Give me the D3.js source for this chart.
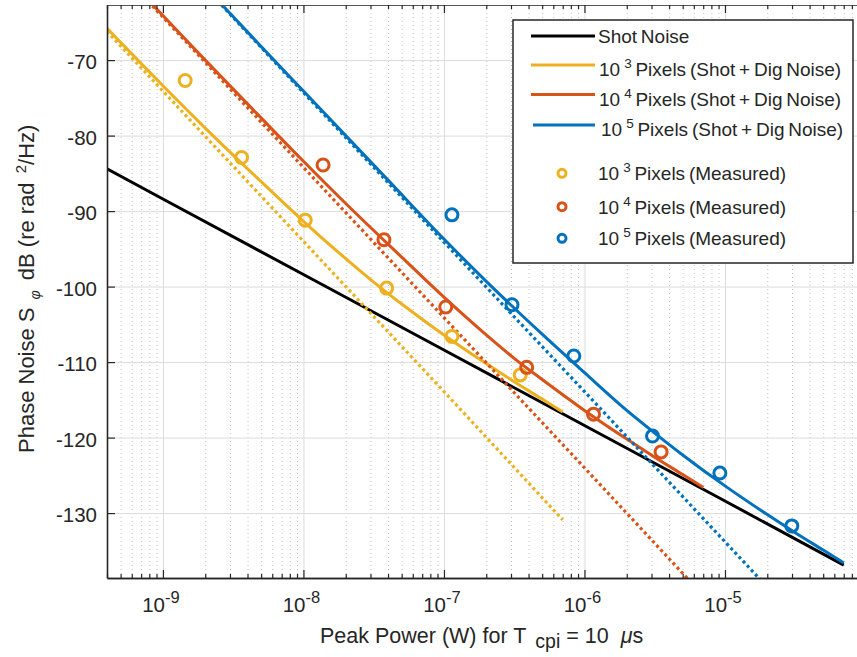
<!DOCTYPE html>
<html>
<head>
<meta charset="utf-8">
<script src="https://cdn.jsdelivr.net/npm/d3@7"></script>
<style>
  body { margin: 0; background: #fff; }
  text { font-family: "Liberation Sans", Arial, sans-serif; fill: #262626; }
</style>
</head>
<body>
<svg id="chart" width="857" height="657"></svg>
<script>
// values: [peak power (W), phase noise (dB)]
const shotNoise = [[4e-10, -84.4], [1e-9, -88.4], [1e-8, -98.4], [1e-7, -108.4], [1e-6, -118.4], [1e-5, -128.4], [7e-5, -136.9]];

const model1e3 = [[4e-10, -65.8], [1e-9, -73.4], [2e-9, -79.0], [5e-9, -86.1], [1e-8, -91.35], [2e-8, -96.3], [3.16e-8, -99.4],
  [5e-8, -102.3], [1e-7, -106.4], [2e-7, -110.2], [3.16e-7, -112.6], [5e-7, -114.9], [7e-7, -116.6]];
const model1e4 = [[5e-10, -58.2], [1e-9, -64.1], [2e-9, -70.0], [4e-9, -75.8], [1e-8, -83.4], [2e-8, -89.0], [5e-8, -96.1],
  [1e-7, -101.4], [2e-7, -106.4], [3.16e-7, -109.5], [5e-7, -112.3], [1e-6, -116.4], [2e-6, -120.2], [3.16e-6, -122.6],
  [5e-6, -124.9], [7e-6, -126.6]];
const model1e5 = [[2e-9, -60.3], [5e-9, -68.2], [1e-8, -74.1], [2e-8, -80.0], [4e-8, -85.9], [1e-7, -93.7], [2e-7, -99.3],
  [5e-7, -106.3], [1e-6, -111.4], [2e-6, -116.4], [3.16e-6, -119.4], [5e-6, -122.3], [1e-5, -126.4], [2e-5, -130.2],
  [3.16e-5, -132.6], [5e-5, -134.9], [7e-5, -136.6]];

// dotted asymptotes
const dig1e3 = [[4e-10, -66.2], [1e-9, -74.1], [1e-8, -94.0], [1e-7, -113.9], [7e-7, -130.9]];
const dig1e4 = [[4e-10, -56.5], [1e-9, -64.3], [1e-8, -84.2], [1e-7, -104.1], [1e-6, -124.0], [7e-6, -140.9]];
const dig1e5 = [[2e-9, -60.4], [1e-8, -74.3], [1e-7, -94.1], [1e-6, -113.9], [1e-5, -133.8], [2e-5, -139.8]];

// measured points
const meas1e3 = [[1.44e-9, -72.7], [3.63e-9, -82.9], [1.03e-8, -91.2], [3.91e-8, -100.2], [1.14e-7, -106.6], [3.49e-7, -111.7]];
const meas1e4 = [[1.38e-8, -83.9], [3.74e-8, -93.8], [1.03e-7, -102.7], [3.88e-7, -110.7], [1.16e-6, -116.9], [3.51e-6, -121.9]];
const meas1e5 = [[1.14e-7, -90.5], [3.05e-7, -102.4], [8.4e-7, -109.2], [3.05e-6, -119.8], [9.2e-6, -124.7], [2.99e-5, -131.7]];

const xTickExp = [-9, -8, -7, -6, -5];
const yTicks = [-130, -120, -110, -100, -90, -80, -70];
const pixelExp = [3, 4, 5];
const modelSuffix = ' Pixels (Shot + Dig Noise)';
const measSuffix = ' Pixels (Measured)';

// MATLAB default colours
const black = '#000000';
const colors = ['#EDB120', '#D95319', '#0072BD'];

const svg = d3.select('#chart');
const pLeft = 107, pRight = 857, pTop = 5, pBottom = 578;

const x = d3.scaleLog().domain([4e-10, 8.7e-5]).range([pLeft, pRight]);
const y = d3.scaleLinear().domain([-138.6, -62.7]).range([pBottom, pTop]);

// minor tick values 2..9 x 10^n inside the domain
const minorX = [];
for (let e = -10; e <= -5; e++) {
  for (let m = 2; m <= 9; m++) {
    const v = m * Math.pow(10, e);
    if (v >= x.domain()[0] && v <= x.domain()[1]) minorX.push(v);
  }
}
const majorX = xTickExp.map(e => Math.pow(10, e));

// grid lines (minor grid only along x)
function grid(axis, translate, color, dash) {
  const g = svg.append('g').attr('transform', translate).call(axis);
  g.select('.domain').remove();
  g.selectAll('line').attr('stroke', color).attr('stroke-width', 1).attr('stroke-dasharray', dash);
}
grid(d3.axisBottom(x).tickValues(minorX).tickSize(-(pBottom - pTop)).tickFormat(''), `translate(0,${pBottom})`, '#c4c4c4', '1,3');
grid(d3.axisBottom(x).tickValues(majorX).tickSize(-(pBottom - pTop)).tickFormat(''), `translate(0,${pBottom})`, '#dcdcdc', null);
grid(d3.axisLeft(y).tickValues(yTicks).tickSize(-(pRight - pLeft)).tickFormat(''), `translate(${pLeft},0)`, '#dcdcdc', null);

// data
svg.append('clipPath').attr('id', 'plotClip')
  .append('rect').attr('x', pLeft).attr('y', pTop).attr('width', pRight - pLeft).attr('height', pBottom - pTop);
const plot = svg.append('g').attr('clip-path', 'url(#plotClip)');

const straight = d3.line().x(d => x(d[0])).y(d => y(d[1]));
const smooth = d3.line().x(d => x(d[0])).y(d => y(d[1])).curve(d3.curveMonotoneX);

plot.append('path').datum(shotNoise).attr('d', straight)
  .attr('fill', 'none').attr('stroke', black).attr('stroke-width', 3);

[model1e3, model1e4, model1e5].forEach((s, i) => {
  plot.append('path').datum(s).attr('d', smooth)
    .attr('fill', 'none').attr('stroke', colors[i]).attr('stroke-width', 3);
});

[dig1e3, dig1e4, dig1e5].forEach((s, i) => {
  plot.append('path').datum(s).attr('d', straight)
    .attr('fill', 'none').attr('stroke', colors[i]).attr('stroke-width', 3.2)
    .attr('stroke-dasharray', '3,3');
});

[meas1e3, meas1e4, meas1e5].forEach((s, i) => {
  plot.selectAll(null).data(s).enter().append('circle')
    .attr('cx', d => x(d[0])).attr('cy', d => y(d[1])).attr('r', 6)
    .attr('fill', 'none').attr('stroke', colors[i]).attr('stroke-width', 3);
});

// axes: ticks point inward
function styleAxis(g) {
  g.selectAll('.domain').attr('stroke', '#262626').attr('stroke-width', 1.6);
  g.selectAll('line').attr('stroke', '#262626').attr('stroke-width', 1.2);
}
svg.append('g').attr('transform', `translate(0,${pBottom})`)
  .call(d3.axisBottom(x).tickValues(minorX).tickSizeInner(-4).tickSizeOuter(0).tickFormat('')).call(styleAxis);
svg.append('g').attr('transform', `translate(0,${pBottom})`)
  .call(d3.axisBottom(x).tickValues(majorX).tickSizeInner(-8).tickSizeOuter(0).tickFormat('')).call(styleAxis);
svg.append('g').attr('transform', `translate(0,${pTop})`)
  .call(d3.axisTop(x).tickValues(minorX).tickSizeInner(-4).tickSizeOuter(0).tickFormat('')).call(styleAxis)
  .select('.domain').attr('stroke', '#555').attr('stroke-width', 1.2);
svg.append('g').attr('transform', `translate(0,${pTop})`)
  .call(d3.axisTop(x).tickValues(majorX).tickSizeInner(-8).tickSizeOuter(0).tickFormat('')).call(styleAxis)
  .select('.domain').remove();

const yAxis = svg.append('g').attr('transform', `translate(${pLeft},0)`)
  .call(d3.axisLeft(y).tickValues(yTicks).tickSizeInner(-8).tickSizeOuter(0).tickPadding(10).tickFormat(d => String(d)))
  .call(styleAxis);
yAxis.attr('font-family', null).attr('font-size', null);
yAxis.selectAll('text').attr('font-size', 20.5).attr('dy', '0.43em').attr('fill', '#262626');

// x tick labels 10^n
xTickExp.forEach(e => {
  const t = svg.append('text').attr('x', x(Math.pow(10, e)) - 2).attr('y', 612)
    .attr('text-anchor', 'middle').attr('font-size', 20.5);
  t.append('tspan').text('10');
  t.append('tspan').attr('dy', -9).attr('font-size', 16.5).text(String(e));
});

// axis labels
const xl = svg.append('text').attr('x', 320).attr('y', 643).attr('font-size', 21.5);
xl.append('tspan').text('Peak Power (W) for T');
xl.append('tspan').attr('dx', 9).attr('dy', 5).attr('font-size', 19.5).text('cpi');
xl.append('tspan').attr('dy', -5).text(' = 10');
xl.append('tspan').attr('dx', 12).attr('font-style', 'italic').text('μ');
xl.append('tspan').text('s');

const yl = svg.append('text').attr('transform', 'translate(34,453) rotate(-90)').attr('font-size', 22);
yl.append('tspan').text('Phase Noise S');
yl.append('tspan').attr('dx', 8).attr('dy', 6).attr('font-size', 14).attr('font-style', 'italic').text('φ');
yl.append('tspan').attr('dx', 4).attr('dy', -6).text(' dB (re rad ');
yl.append('tspan').attr('dx', 3).attr('dy', -8).attr('font-size', 15).text('2');
yl.append('tspan').attr('dy', 8).text('/Hz)');

// legend
const lg = svg.append('g');
lg.append('rect').attr('x', 513).attr('y', 20).attr('width', 340).attr('height', 243)
  .attr('fill', '#fff').attr('stroke', '#262626').attr('stroke-width', 1.5);

function legendText(ty, tx, exp, suffix) {
  const t = lg.append('text').attr('x', tx).attr('y', ty).attr('font-size', 19).attr('word-spacing', -1.5);
  if (exp === null) { t.text(suffix); return; }
  t.append('tspan').text('10');
  t.append('tspan').attr('dx', 4).attr('dy', -8).attr('font-size', 13.5).text(String(exp));
  t.append('tspan').attr('dy', 8).text(suffix);
}

lg.append('line').attr('x1', 531).attr('x2', 595).attr('y1', 36).attr('y2', 36)
  .attr('stroke', black).attr('stroke-width', 3);
legendText(43, 598, null, 'Shot Noise');

const lineRows = [65, 94.5, 125];
pixelExp.forEach((e, i) => {
  lg.append('line').attr('x1', 531 + (i === 2 ? 2 : 0)).attr('x2', 595).attr('y1', lineRows[i]).attr('y2', lineRows[i])
    .attr('stroke', colors[i]).attr('stroke-width', 3);
  legendText(lineRows[i] + 11, 599 + (i === 2 ? 2 : 0), e, modelSuffix);
});

const markRows = [173.3, 206.7, 238.3];
pixelExp.forEach((e, i) => {
  lg.append('circle').attr('cx', 562).attr('cy', markRows[i]).attr('r', 4)
    .attr('fill', 'none').attr('stroke', colors[i]).attr('stroke-width', 3);
  legendText(markRows[i] + 7, 598, e, measSuffix);
});
</script>
</body>
</html>
